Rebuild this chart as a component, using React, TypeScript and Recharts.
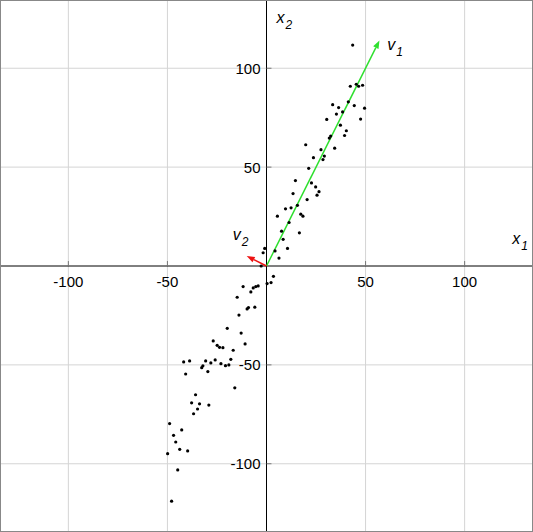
import { ScatterChart, Scatter, XAxis, YAxis, ReferenceLine, ReferenceDot } from 'recharts';

// sample points, [x1, x2]
const upperPoints: [number, number][] = [
  [43.5, 111.7], [42.3, 90.9], [45.3, 91.9], [46.5, 90.9], [48.5, 91.4],
  [41.3, 83.0], [33.4, 81.6], [36.4, 80.1], [44.3, 81.1], [49.5, 79.8],
  [35.3, 76.8], [38.4, 77.9], [30.4, 74.1], [47.5, 74.3], [37.3, 71.2],
  [40.3, 68.4], [39.4, 66.0], [32.4, 65.7], [31.7, 64.7], [19.8, 61.3],
  [34.4, 59.6], [27.5, 58.8], [23.7, 54.8], [29.2, 55.6], [28.5, 53.8],
  [21.3, 49.4], [14.6, 43.2], [22.7, 42.0], [24.8, 40.0], [26.5, 37.6],
  [25.5, 35.8], [13.4, 36.6], [20.5, 33.6], [15.6, 30.7], [9.6, 28.9],
  [12.4, 29.4], [17.3, 26.2], [18.4, 25.2], [5.5, 25.2], [11.4, 22.0],
  [16.6, 16.8], [7.6, 17.6], [8.4, 13.5], [10.6, 8.9], [4.3, 7.6],
  [6.3, 4.0], [-0.9, 8.9], [-1.7, 6.7], [-2.7, 0],
];

const lowerPoints: [number, number][] = [
  [3.5, -5.2], [2.3, -8.4], [0.3, -8.9], [-4.2, -10.1], [-5.4, -10.4],
  [-6.7, -11.1], [-11.8, -10.4], [-7.9, -13.1], [-14.8, -15.8],
  [-9.1, -21.0], [-9.8, -21.7], [-5.9, -20.8], [-13.9, -24.8],
  [-19.8, -31.5], [-12.8, -33.9], [-26.9, -37.9], [-24.9, -40.1],
  [-23.7, -41.1], [-22.0, -41.3], [-10.8, -39.4], [-16.8, -42.6],
  [-41.8, -48.5], [-38.8, -48.0], [-30.7, -48.0], [-25.9, -47.5],
  [-28.1, -49.0], [-18.0, -47.2], [-23.0, -49.4], [-20.7, -50.4],
  [-19.0, -50.0], [-32.1, -50.5], [-32.7, -51.4], [-29.6, -53.4],
  [-40.8, -54.6], [-16.0, -61.6], [-35.8, -65.1], [-37.8, -69.2],
  [-33.8, -69.7], [-29.1, -70.3], [-34.8, -72.3], [-36.8, -74.7],
  [-48.9, -79.7], [-42.8, -82.9], [-46.9, -85.6], [-45.8, -89.0],
  [-43.8, -92.7], [-39.8, -93.5], [-49.9, -94.9], [-44.8, -103.1],
  [-47.9, -118.9],
];

const ticks = [-100, -50, 50, 100];
const domain: [number, number] = [-134, 134];

// eigen-vectors
const v1: [number, number] = [57, 114];
const v2: [number, number] = [-10, 5];

// axis / vector names and where they sit
const names = [
  { base: 'x', sub: '2', at: [5, 123] },
  { base: 'x', sub: '1', at: [124, 11] },
  { base: 'v', sub: '1', at: [61, 109] },
  { base: 'v', sub: '2', at: [-17, 13] },
];

const points = [...upperPoints, ...lowerPoints].map(([x, y]) => ({ x, y }));

const FONT = '"Liberation Sans", Arial, sans-serif';

const arrow = (color: string) => (props: any) => {
  const { x1, y1, x2, y2 } = props;
  const a = Math.atan2(y2 - y1, x2 - x1);
  const len = 8;
  const w = 3;
  const bx = x2 - len * Math.cos(a);
  const by = y2 - len * Math.sin(a);
  const px = -Math.sin(a) * w;
  const py = Math.cos(a) * w;
  return (
    <g>
      <line x1={x1} y1={y1} x2={bx} y2={by} stroke={color} strokeWidth={1.5} />
      <polygon points={`${x2},${y2} ${bx + px},${by + py} ${bx - px},${by - py}`} fill={color} />
    </g>
  );
};

const dot = (props: any) => <circle cx={props.cx} cy={props.cy} r={1.6} fill="#000" />;

export default function App() {
  return (
    <div style={{ width: 533, height: 532, border: '1px solid #888', boxSizing: 'border-box', background: '#fff' }}>
      <style>{'body{margin:0}'}</style>
      <ScatterChart width={531} height={530} margin={{ top: 0, right: 0, bottom: 0, left: 0 }}>
        <XAxis type="number" dataKey="x" domain={domain} hide allowDataOverflow />
        <YAxis type="number" dataKey="y" domain={domain} hide allowDataOverflow />

        {/* grid */}
        {ticks.map((t) => (
          <ReferenceLine key={`gx${t}`} x={t} stroke="#d4d4d4" strokeWidth={1} />
        ))}
        {ticks.map((t) => (
          <ReferenceLine key={`gy${t}`} y={t} stroke="#d4d4d4" strokeWidth={1} />
        ))}

        {/* axes through the origin */}
        <ReferenceLine x={0} stroke="#000" strokeWidth={1} />
        <ReferenceLine y={0} stroke="#000" strokeWidth={1} />
        {ticks.map((t) => (
          <ReferenceLine key={`tx${t}`} segment={[{ x: t, y: 0 }, { x: t, y: 2.5 }]} stroke="#777" />
        ))}
        {ticks.map((t) => (
          <ReferenceLine key={`ty${t}`} segment={[{ x: 0, y: t }, { x: 2.5, y: t }]} stroke="#777" />
        ))}

        {/* tick labels */}
        {ticks.map((t) => (
          <ReferenceDot
            key={`lx${t}`}
            x={t}
            y={0}
            r={0}
            shape={(p: any) => (
              <text x={p.cx} y={p.cy + 21} textAnchor="middle" fontFamily={FONT} fontSize={15} fill="#000">
                {t}
              </text>
            )}
          />
        ))}
        {ticks.map((t) => (
          <ReferenceDot
            key={`ly${t}`}
            x={0}
            y={t}
            r={0}
            shape={(p: any) => (
              <text x={p.cx - 6} y={p.cy + 5.5} textAnchor="end" fontFamily={FONT} fontSize={15} fill="#000">
                {t}
              </text>
            )}
          />
        ))}

        <Scatter data={points} shape={dot} isAnimationActive={false} />

        <ReferenceLine segment={[{ x: 0, y: 0 }, { x: v1[0], y: v1[1] }]} shape={arrow('#2ee02e')} />
        <ReferenceLine segment={[{ x: 0, y: 0 }, { x: v2[0], y: v2[1] }]} shape={arrow('#ee1111')} />

        {names.map((n) => (
          <ReferenceDot
            key={n.base + n.sub}
            x={n.at[0]}
            y={n.at[1]}
            r={0}
            shape={(p: any) => (
              <text x={p.cx} y={p.cy} fontFamily={FONT} fontSize={16} fontStyle="italic" fill="#000">
                {n.base}
                <tspan dx={1} dy={6} fontSize={12}>
                  {n.sub}
                </tspan>
              </text>
            )}
          />
        ))}
      </ScatterChart>
    </div>
  );
}
